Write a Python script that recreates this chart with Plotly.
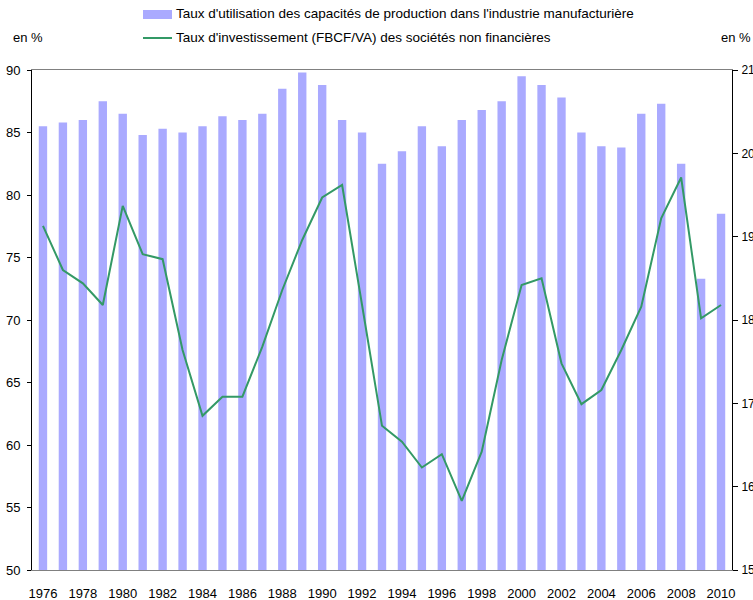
import plotly.graph_objects as go

years = list(range(1976, 2011))
utilisation = [85.5, 85.8, 86.0, 87.5, 86.5, 84.8, 85.3, 85.0, 85.5, 86.3,
               86.0, 86.5, 88.5, 89.8, 88.8, 86.0, 85.0, 82.5, 83.5, 85.5,
               83.9, 86.0, 86.8, 87.5, 89.5, 88.8, 87.8, 85.0, 83.9, 83.8,
               86.5, 87.3, 82.5, 73.3, 78.5]
investissement = [19.13, 18.60, 18.44, 18.18, 19.37, 18.79, 18.73, 17.64, 16.85, 17.08,
                  17.08, 17.68, 18.36, 18.96, 19.47, 19.62, 18.18, 16.73, 16.54, 16.23,
                  16.39, 15.83, 16.42, 17.52, 18.42, 18.50, 17.48, 16.99, 17.16, 17.64,
                  18.16, 19.22, 19.71, 18.02, 18.18]
x_ticks = list(range(1976, 2011, 2))
left_ticks = list(range(50, 91, 5))
right_ticks = list(range(15, 22))

name_bar = "Taux d'utilisation des capacités de production dans l'industrie manufacturière"
name_line = "Taux d'investissement (FBCF/VA) des sociétés non financières"

BAR_COLOR = "#AAAAFF"
LINE_COLOR = "#339966"
FONT = "Liberation Sans, Arial, sans-serif"

W, H = 753, 600
L, R, T, B = 32, 21, 70, 30
PW, PH = W - L - R, H - T - B

def px_x(px):
    return (px - L) / PW

def px_y(py):
    return (H - B - py) / PH

fig = go.Figure()
fig.add_trace(go.Bar(x=years, y=utilisation, name=name_bar, marker_color=BAR_COLOR,
                     marker_line_width=0, width=0.42, yaxis="y", showlegend=False))
fig.add_trace(go.Scatter(x=years, y=investissement, name=name_line, mode="lines",
                         line=dict(color=LINE_COLOR, width=2), yaxis="y2", showlegend=False))

LEG = 13.5
shapes = [
    dict(type="rect", xref="paper", yref="paper", x0=px_x(143), x1=px_x(172),
         y0=px_y(19), y1=px_y(10), fillcolor=BAR_COLOR, line_width=0, layer="above"),
    dict(type="line", xref="paper", yref="paper", x0=px_x(143), x1=px_x(172),
         y0=px_y(38), y1=px_y(38), line=dict(color=LINE_COLOR, width=2), layer="above"),
]
annotations = [
    dict(text=name_bar, xref="paper", yref="paper", x=px_x(174), y=px_y(14),
         xanchor="left", yanchor="middle", showarrow=False, font=dict(size=LEG, color="#000")),
    dict(text=name_line, xref="paper", yref="paper", x=px_x(174), y=px_y(38),
         xanchor="left", yanchor="middle", showarrow=False, font=dict(size=LEG, color="#000")),
    dict(text="en %", xref="paper", yref="paper", x=px_x(11), y=px_y(38),
         xanchor="left", yanchor="middle", showarrow=False, font=dict(size=13, color="#000")),
    dict(text="en %", xref="paper", yref="paper", x=px_x(719), y=px_y(38),
         xanchor="left", yanchor="middle", showarrow=False, font=dict(size=13, color="#000")),
]

fig.update_layout(
    template="none",
    width=W, height=H,
    margin=dict(l=L, r=R, t=T, b=B, pad=0, autoexpand=False),
    paper_bgcolor="white", plot_bgcolor="white",
    font=dict(family=FONT, size=13, color="#000"),
    bargap=0.58,
    shapes=shapes, annotations=annotations,
    xaxis=dict(range=[1975.45, 2010.55], tickmode="array", tickvals=x_ticks,
               ticktext=[str(v) for v in x_ticks], showgrid=False, zeroline=False,
               showline=True, linecolor="#808080", linewidth=1, mirror=True,
               ticks="", ticklabelstandoff=11, tickfont=dict(size=13), automargin=False),
    yaxis=dict(range=[50, 90], tickmode="array", tickvals=left_ticks, showgrid=False,
               zeroline=False, showline=True, linecolor="#000", linewidth=1,
               ticks="outside", ticklen=4, tickcolor="#000", ticklabelstandoff=4,
               tickfont=dict(size=13), automargin=False),
    yaxis2=dict(range=[15, 21], tickmode="array", tickvals=right_ticks, overlaying="y",
                side="right", showgrid=False, zeroline=False, showline=True,
                linecolor="#000", linewidth=1, ticks="outside", ticklen=5,
                tickcolor="#000", ticklabelstandoff=1, tickfont=dict(size=12),
                automargin=False),
)

fig.write_html("out.html", config={"displayModeBar": False},
               post_script="document.body.style.margin='0';document.body.style.overflow='hidden';")
